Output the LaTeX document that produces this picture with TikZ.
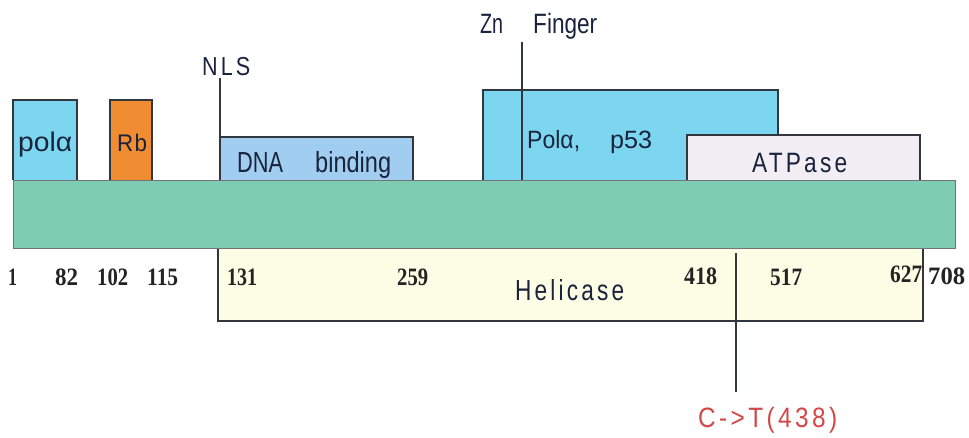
\documentclass[tikz,border=0pt]{standalone}
\usepackage{fontspec}
\usepackage{graphicx}
\setmainfont{Liberation Sans}
\newfontfamily\labfont{Liberation Sans}
\newfontfamily\spfont[LetterSpace=14]{Liberation Sans}
\newfontfamily\lsfont[LetterSpace=6]{Liberation Sans}
\newfontfamily\numfont{Liberation Serif}
% squeeze or stretch #2 horizontally to width #1 (pt)
\newcommand\fitw[2]{\resizebox{#1pt}{\height}{#2}}

\definecolor{barfill}{RGB}{126,205,178}
\definecolor{cyanfill}{RGB}{125,214,240}
\definecolor{rbfill}{RGB}{240,140,50}
\definecolor{dnafill}{RGB}{160,205,240}
\definecolor{atpfill}{RGB}{242,238,244}
\definecolor{helfill}{RGB}{253,253,230}
\definecolor{edge}{RGB}{50,55,62}
\definecolor{labink}{RGB}{25,35,60}
\definecolor{numink}{RGB}{35,35,35}
\definecolor{mutink}{RGB}{210,72,72}

\begin{document}
\begin{tikzpicture}[x=1pt,y=-1pt,
  domainbox/.style={draw=edge,line width=1.4pt},
  sitemark/.style={draw=edge,line width=1.4pt},
  lab/.style={inner sep=0pt,anchor=base west,text=labink},
  num/.style={inner sep=0pt,anchor=base west,text=numink,font=\numfont\bfseries\fontsize{25}{25}\selectfont}]
\useasboundingbox[fill=white] (0,0) rectangle (969,437);

% domains above the backbone (bottoms hidden by the bar)
\filldraw[domainbox,fill=cyanfill] (13,180) -- (13,100) -- (77,100) -- (77,180);
\filldraw[domainbox,fill=rbfill] (110,180) -- (110,100) -- (152,100) -- (152,180);
\filldraw[domainbox,fill=dnafill] (220,180) -- (220,137) -- (413,137) -- (413,180);
\filldraw[domainbox,fill=cyanfill] (483,180) -- (483,90) -- (778,90) -- (778,180);
\filldraw[domainbox,fill=atpfill] (687,180) -- (687,135) -- (920,135) -- (920,180);

% helicase region below the backbone
\filldraw[domainbox,fill=helfill] (218,248) -- (218,321) -- (923,321) -- (923,248);

% backbone
\filldraw[draw=edge!70,line width=1pt,fill=barfill] (13,180) rectangle (955,248);

% site markers
\coordinate (nlsTop) at (220,78);
\coordinate (nlsFoot) at (220,180);
\coordinate (znTop) at (522,42);
\coordinate (znFoot) at (522,180);
\coordinate (mutTop) at (736,253);
\coordinate (mutFoot) at (736,392);
\draw[sitemark] (nlsTop) -- (nlsFoot);
\draw[sitemark] (znTop) -- (znFoot);
\draw[sitemark] (mutTop) -- (mutFoot);

% domain labels
\node[lab,font=\labfont\fontsize{27}{27}\selectfont] (lpol) at (18,151) {\fitw{54}{polα}};
\node[lab,font=\lsfont\fontsize{24}{24}\selectfont] (lrb) at (117,151) {\fitw{30}{Rb}};
\node[lab,font=\labfont\fontsize{29}{29}\selectfont] (ldna) at (237,172) {\fitw{46}{DNA}};
\node[lab,font=\labfont\fontsize{29}{29}\selectfont] (lbind) at (315,172) {\fitw{76}{binding}};
\node[lab,font=\labfont\fontsize{25}{25}\selectfont] (lpola) at (527,148) {\fitw{53}{Polα,}};
\node[lab,font=\labfont\fontsize{25}{25}\selectfont] (lp53) at (610,148) {\fitw{42}{p53}};
\node[lab,font=\spfont\fontsize{28}{28}\selectfont] (latp) at (752,172) {\fitw{95}{ATPase}};
\node[lab,font=\spfont\fontsize{29}{29}\selectfont] (lhel) at (515,300) {\fitw{109}{Helicase}};
\node[lab,font=\spfont\fontsize{26}{26}\selectfont] (lnls) at (202,75) {\fitw{48}{NLS}};
\node[lab,font=\labfont\fontsize{28}{28}\selectfont] (lzn) at (480,33) {\fitw{23}{Zn}};
\node[lab,font=\labfont\fontsize{28}{28}\selectfont] (lfin) at (533,33) {\fitw{64}{Finger}};
\node[lab,text=mutink,font=\spfont\fontsize{28}{28}\selectfont] (lmut) at (698,427) {\fitw{139}{C->T(438)}};

% residue numbers
\node[num] (n1) at (8,285) {\fitw{9}{1}};
\node[num] (n82) at (55,285) {\fitw{23}{82}};
\node[num] (n102) at (97,285) {\fitw{31}{102}};
\node[num] (n115) at (147,285) {\fitw{31}{115}};
\node[num] (n131) at (227,285) {\fitw{30}{131}};
\node[num] (n259) at (397,285) {\fitw{31}{259}};
\node[num] (n418) at (684,284) {\fitw{33}{418}};
\node[num] (n517) at (770,285) {\fitw{32}{517}};
\node[num] (n627) at (890,282) {\fitw{32}{627}};
\node[num] (n708) at (928,284) {\fitw{37}{708}};
\end{tikzpicture}
\end{document}
